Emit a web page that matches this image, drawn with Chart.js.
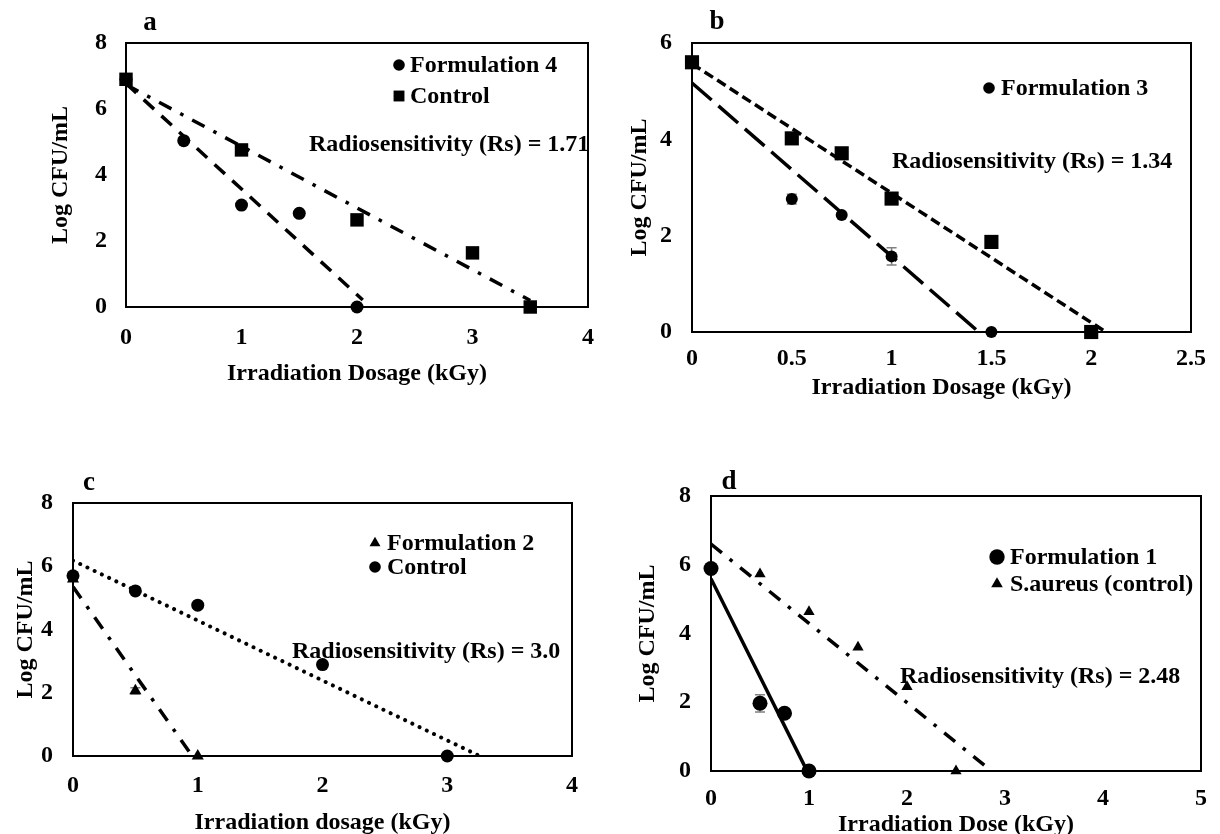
<!DOCTYPE html>
<html>
<head>
<meta charset="utf-8">
<script src="https://cdn.jsdelivr.net/npm/chart.js@4.4.1/dist/chart.umd.min.js"></script>
<style>
  body { margin: 0; background: #fff; }
  #wrap { position: relative; width: 1220px; height: 834px; overflow: hidden; }
  .panel { position: absolute; }
</style>
</head>
<body>
<div id="wrap">
  <div class="panel" style="left:0;top:0;width:610px;height:410px"><canvas id="chart-a"></canvas></div>
  <div class="panel" style="left:610px;top:0;width:610px;height:410px"><canvas id="chart-b"></canvas></div>
  <div class="panel" style="left:0;top:410px;width:610px;height:424px"><canvas id="chart-c"></canvas></div>
  <div class="panel" style="left:610px;top:410px;width:610px;height:424px"><canvas id="chart-d"></canvas></div>
</div>
<script>
// Panel a: Formulation 4 vs control
const aDoseF4 = [0, 0.5, 1, 1.5, 2];
const aLogF4 = [6.9, 5.04, 3.09, 2.84, 0];
const aDoseCtrl = [0, 1, 2, 3, 3.5];
const aLogCtrl = [6.9, 4.76, 2.64, 1.64, 0];
const aTrendF4 = [0, 2.05];
const aTrendCtrl = [0, 3.5];

// Panel b: Formulation 3 vs control
const bDoseF3 = [0, 0.5, 0.75, 1, 1.5];
const bLogF3 = [5.6, 2.76, 2.43, 1.57, 0];
const bErrF3 = [0, 0.1, 0, 0.18, 0];
const bDoseCtrl = [0, 0.5, 0.75, 1, 1.5, 2];
const bLogCtrl = [5.6, 4.02, 3.71, 2.77, 1.87, 0];
const bTrendF3 = [0, 1.5];
const bTrendCtrl = [0, 2.06];

// Panel c: Formulation 2 vs control
const cDoseF2 = [0, 0.5, 1];
const cLogF2 = [5.6, 2.06, 0];
const cErrF2 = [0, 0.1, 0];
const cDoseCtrl = [0, 0.5, 1, 2, 3];
const cLogCtrl = [5.7, 5.22, 4.77, 2.89, 0];
const cTrendF2 = [0, 1];
const cTrendCtrl = [0, 3.3];

// Panel d: Formulation 1 vs S.aureus control
const dDoseF1 = [0, 0.5, 0.75, 1];
const dLogF1 = [5.89, 1.97, 1.68, 0];
const dErrF1 = [0, 0.25, 0, 0];
const dDoseCtrl = [0, 0.5, 1, 1.5, 2, 2.5];
const dLogCtrl = [5.9, 5.73, 4.63, 3.6, 2.45, 0];
const dTrendF1 = [0, 1];
const dTrendCtrl = [0, 2.9];

const FONT = "'Liberation Serif', 'Times New Roman', serif";
Chart.defaults.font.family = FONT;
Chart.defaults.font.size = 24;
Chart.defaults.font.weight = 'bold';
Chart.defaults.color = '#000';

// least squares line, like an Excel linear trendline
function fitLine(xs, ys, range) {
    const n = xs.length;
    const mx = xs.reduce((s, v) => s + v, 0) / n;
    const my = ys.reduce((s, v) => s + v, 0) / n;
    let sxy = 0, sxx = 0;
    xs.forEach((x, i) => {
        sxy += (x - mx) * (ys[i] - my);
        sxx += (x - mx) * (x - mx);
    });
    const slope = sxy / sxx;
    const icpt = my - slope * mx;
    return range.map(x => ({ x: x, y: icpt + slope * x }));
}

function markers(xs, ys, style, radius, order, errs) {
    return {
        data: xs.map((x, i) => ({ x: x, y: ys[i] })),
        pointStyle: style,
        pointRadius: radius,
        pointHoverRadius: radius,
        backgroundColor: '#000',
        borderColor: '#000',
        borderWidth: 0,
        showLine: false,
        clip: false,
        errors: errs,
        order: order
    };
}

function trend(xs, ys, range, dash, cap) {
    return {
        data: fitLine(xs, ys, range),
        showLine: true,
        borderColor: '#000',
        borderWidth: cap === 'round' ? 4 : 3.5,
        borderDash: dash,
        borderCapStyle: cap || 'butt',
        pointRadius: 0,
        pointHoverRadius: 0,
        order: 5
    };
}

const decor = {
    id: 'decor',
    beforeDatasetsDraw(chart, args, opts) {
        const { ctx, chartArea: ca, scales } = chart;
        ctx.save();
        ctx.strokeStyle = '#000';
        ctx.lineWidth = 2;
        ctx.strokeRect(ca.left, ca.top, ca.right - ca.left, ca.bottom - ca.top);
        // error bars
        ctx.strokeStyle = '#808080';
        ctx.lineWidth = 1.5;
        chart.data.datasets.forEach(ds => {
            if (!ds.errors) return;
            ds.data.forEach((p, i) => {
                const e = ds.errors[i];
                if (!e) return;
                const px = scales.x.getPixelForValue(p.x);
                const y1 = scales.y.getPixelForValue(p.y + e);
                const y2 = scales.y.getPixelForValue(p.y - e);
                ctx.beginPath();
                ctx.moveTo(px, y1); ctx.lineTo(px, y2);
                ctx.moveTo(px - 5, y1); ctx.lineTo(px + 5, y1);
                ctx.moveTo(px - 5, y2); ctx.lineTo(px + 5, y2);
                ctx.stroke();
            });
        });
        ctx.restore();
    },
    afterDraw(chart, args, opts) {
        const ctx = chart.ctx;
        ctx.save();
        ctx.fillStyle = '#000';
        ctx.textBaseline = 'middle';
        ctx.font = 'bold 27px ' + FONT;
        ctx.textAlign = 'center';
        ctx.fillText(opts.letter, opts.letterPos[0], opts.letterPos[1]);
        ctx.font = 'bold 24px ' + FONT;
        ctx.textAlign = 'left';
        opts.legend.forEach(item => {
            Chart.helpers.drawPoint(ctx, { pointStyle: item.style, radius: item.r, rotation: 0, borderWidth: 0 },
                opts.legendX, item.y);
            ctx.fillStyle = '#000';
            ctx.fillText(item.text, opts.legendX + opts.legendGap, item.y + 1);
        });
        ctx.fillText(opts.rsText, opts.rsPos[0], opts.rsPos[1]);
        ctx.restore();
    }
};

function makePanel(id, cfg) {
    new Chart(document.getElementById(id), {
        type: 'scatter',
        data: { datasets: cfg.datasets },
        options: {
            responsive: true,
            maintainAspectRatio: false,
            animation: false,
            events: [],
            layout: { padding: { top: cfg.box.top, right: cfg.w - cfg.box.right, left: 0, bottom: 0 } },
            plugins: {
                legend: { display: false },
                tooltip: { enabled: false },
                decor: cfg.decor
            },
            scales: {
                x: {
                    min: 0, max: cfg.xMax,
                    ticks: { stepSize: cfg.xStep, padding: cfg.xTickPad, maxRotation: 0, autoSkip: false,
                             callback: v => String(v) },
                    grid: { display: false, drawTicks: false },
                    border: { display: false },
                    title: { display: true, text: cfg.xTitle, padding: { top: 0, bottom: cfg.xTitlePad } },
                    afterFit: s => { s.height = cfg.h - cfg.box.bottom; }
                },
                y: {
                    min: 0, max: cfg.yMax,
                    ticks: { stepSize: 2, padding: cfg.yTickPad },
                    grid: { display: false, drawTicks: false },
                    border: { display: false },
                    title: { display: true, text: 'Log CFU/mL', padding: { top: cfg.yTitlePad, bottom: 0 } },
                    afterFit: s => { s.width = cfg.box.left; }
                }
            }
        },
        plugins: [decor]
    });
}

makePanel('chart-a', {
    w: 610, h: 410, box: { left: 126, right: 591, top: 43, bottom: 307 },
    xMax: 4, xStep: 1, yMax: 8, xTickPad: 16, yTickPad: 19, xTitlePad: 22, yTitlePad: 46,
    xTitle: 'Irradiation Dosage (kGy)',
    datasets: [
        markers(aDoseF4, aLogF4, 'circle', 6.5, 1),
        markers(aDoseCtrl, aLogCtrl, 'rect', 9.5, 0),
        trend(aDoseF4, aLogF4, aTrendF4, [14, 10]),
        trend(aDoseCtrl, aLogCtrl, aTrendCtrl, [14, 10, 3.5, 10])
    ],
    decor: {
        letter: 'a', letterPos: [150, 23], legendX: 399, legendGap: 11,
        legend: [
            { text: 'Formulation 4', style: 'circle', r: 5.8, y: 65 },
            { text: 'Control', style: 'rect', r: 7.7, y: 96 }
        ],
        rsText: 'Radiosensitivity (Rs) = 1.71', rsPos: [309, 145]
    }
});

makePanel('chart-b', {
    w: 610, h: 410, box: { left: 82, right: 581, top: 43, bottom: 332 },
    xMax: 2.5, xStep: 0.5, yMax: 6, xTickPad: 12, yTickPad: 20, xTitlePad: 8, yTitlePad: 15,
    xTitle: 'Irradiation Dosage (kGy)',
    datasets: [
        markers(bDoseF3, bLogF3, 'circle', 6, 1, bErrF3),
        markers(bDoseCtrl, bLogCtrl, 'rect', 10, 0),
        trend(bDoseF3, bLogF3, bTrendF3, [26, 9]),
        trend(bDoseCtrl, bLogCtrl, bTrendCtrl, [10, 5])
    ],
    decor: {
        letter: 'b', letterPos: [107, 22], legendX: 379, legendGap: 12,
        legend: [
            { text: 'Formulation 3', style: 'circle', r: 5.8, y: 88 }
        ],
        rsText: 'Radiosensitivity (Rs) = 1.34', rsPos: [282, 162]
    }
});

makePanel('chart-c', {
    w: 610, h: 424, box: { left: 73, right: 572, top: 93, bottom: 346 },
    xMax: 4, xStep: 1, yMax: 8, xTickPad: 15, yTickPad: 20, xTitlePad: -3, yTitlePad: 11,
    xTitle: 'Irradiation dosage (kGy)',
    datasets: [
        markers(cDoseF2, cLogF2, 'triangle', 7, 1, cErrF2),
        markers(cDoseCtrl, cLogCtrl, 'circle', 6.5, 0),
        trend(cDoseF2, cLogF2, cTrendF2, [14, 10, 3.5, 10]),
        trend(cDoseCtrl, cLogCtrl, cTrendCtrl, [0.01, 8], 'round')
    ],
    decor: {
        letter: 'c', letterPos: [89, 73], legendX: 375, legendGap: 12,
        legend: [
            { text: 'Formulation 2', style: 'triangle', r: 6.3, y: 133 },
            { text: 'Control', style: 'circle', r: 5.8, y: 157 }
        ],
        rsText: 'Radiosensitivity (Rs) = 3.0', rsPos: [292, 242]
    }
});

makePanel('chart-d', {
    w: 610, h: 424, box: { left: 101, right: 596, top: 86, bottom: 361 },
    xMax: 5, xStep: 1, yMax: 8, xTickPad: 13, yTickPad: 20, xTitlePad: -5, yTitlePad: 23,
    xTitle: 'Irradiation Dose (kGy)',
    datasets: [
        markers(dDoseF1, dLogF1, 'circle', 7.5, 0, dErrF1),
        markers(dDoseCtrl, dLogCtrl, 'triangle', 6.5, 1),
        trend(dDoseF1, dLogF1, dTrendF1, []),
        trend(dDoseCtrl, dLogCtrl, dTrendCtrl, [14, 10, 3.5, 10])
    ],
    decor: {
        letter: 'd', letterPos: [119, 72], legendX: 387, legendGap: 13,
        legend: [
            { text: 'Formulation 1', style: 'circle', r: 7.7, y: 147 },
            { text: 'S.aureus (control)', style: 'triangle', r: 6.7, y: 174 }
        ],
        rsText: 'Radiosensitivity (Rs) = 2.48', rsPos: [290, 267]
    }
});
</script>
</body>
</html>
